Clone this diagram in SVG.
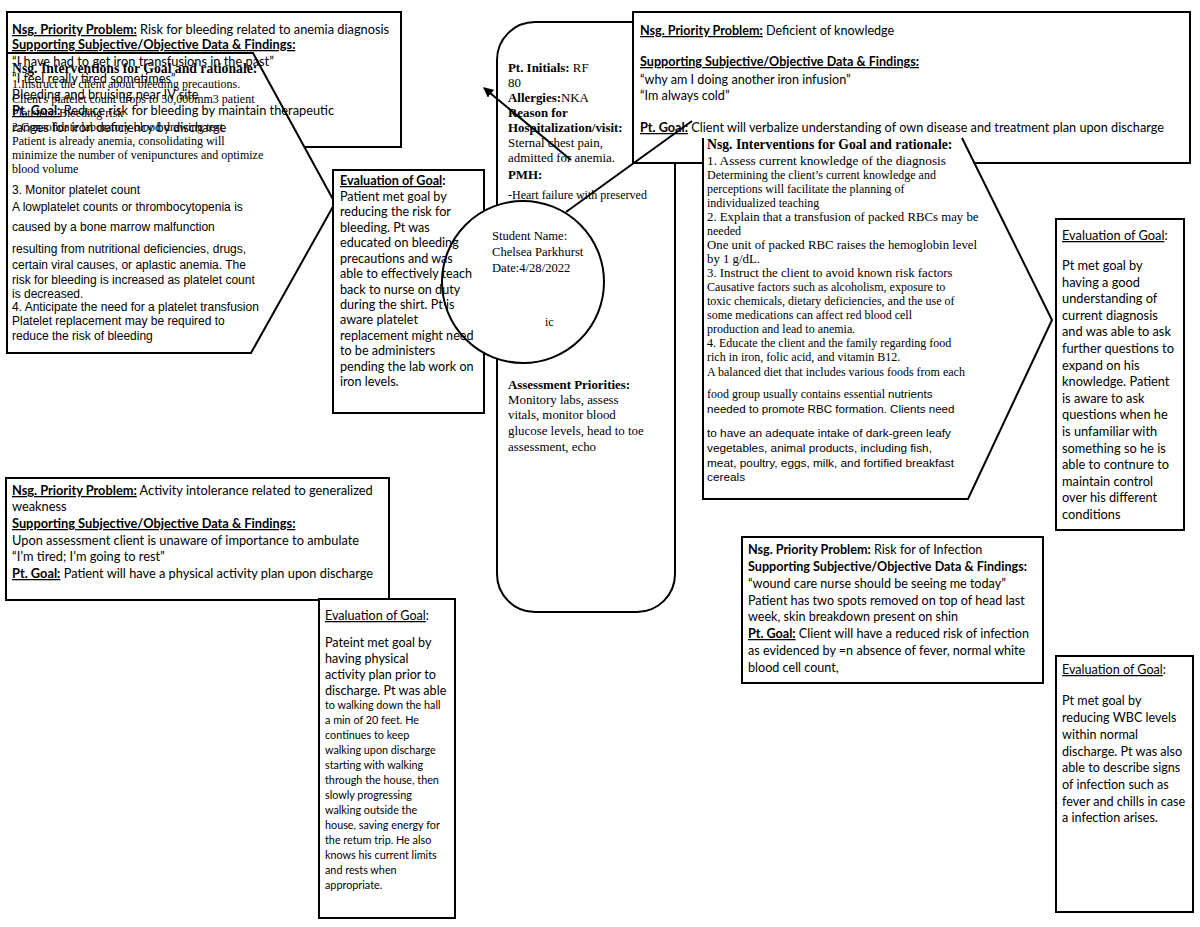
<svg xmlns="http://www.w3.org/2000/svg" width="1200" height="927" viewBox="0 0 1200 927">
<style>
.box{fill:#fff;stroke:#000;stroke-width:2}
.fill{fill:#fff;stroke:none}
.t{font-family:"Liberation Serif",serif;font-size:12px;fill:#000}
.tb{font-family:"Liberation Serif",serif;font-size:13.7px;font-weight:bold;fill:#000}
.tc{font-family:"Liberation Serif",serif;font-size:12.9px;fill:#000}
.c{font-family:Lato,"Open Sans",sans-serif;font-size:12.6px;fill:#000}
.cs{font-family:Lato,"Open Sans",sans-serif;font-size:10.8px;fill:#000}
.a{font-family:"Liberation Sans",Arial,sans-serif;font-size:12px;fill:#000}
.a2{font-family:"Liberation Sans",Arial,sans-serif;font-size:11.6px;fill:#000}
.b{font-weight:bold}
.u{text-decoration:underline}
.ln{stroke:#000;stroke-width:2;fill:none}
</style>
<defs>
<marker id="ah" markerWidth="10" markerHeight="10" refX="9" refY="5" orient="auto" markerUnits="userSpaceOnUse">
<path d="M0,0 L10,5 L0,10 z" fill="#000"/>
</marker>
</defs>

<g id="problem1">
<rect class="box" x="7" y="12" width="394" height="135"/>
</g>
<g id="interventions1">
<polygon class="box" points="7,53 253,53 335,203 251,353 7,353"/>
<text class="tb" x="12" y="73">Nsg. Interventions for Goal and rationale:</text>
<text class="t" x="12" y="88">1.Instruct the client about bleeding precautions.</text>
<text class="t" x="12" y="103">Client's platelet count drops to 50,000mm3 patient</text>
<text class="t" x="12" y="117">Platelets: Bleeding risk</text>
<text class="t" x="12" y="131">2.Consolidate laboratory blood drawing test</text>
<text class="t" x="12" y="145"> Patient is already anemia, consolidating will</text>
<text class="t" x="12" y="159">minimize the number of venipunctures and optimize</text>
<text class="t" x="12" y="173">blood volume</text>
<text class="a" x="12" y="194">3. Monitor platelet count</text>
<text class="a" x="12" y="211">A lowplatelet counts or thrombocytopenia is</text>
<text class="a" x="12" y="231">caused by a bone marrow malfunction</text>
<text class="a" x="12" y="253">resulting from nutritional deficiencies, drugs,</text>
<text class="a" x="12" y="269">certain viral causes, or aplastic anemia. The</text>
<text class="a" x="12" y="284">risk for bleeding is increased as platelet count</text>
<text class="a" x="12" y="298">is decreased.</text>
<text class="a" x="12" y="311">4. Anticipate the need for a platelet transfusion</text>
<text class="a" x="12" y="325">Platelet replacement may be required to</text>
<text class="a" x="12" y="340">reduce the risk of bleeding</text>
</g>
<g id="problem1-text">
<text class="c" x="12" y="34" style="font-size:12.8px"><tspan class="b u">Nsg. Priority Problem:</tspan> Risk for bleeding related to anemia diagnosis</text>
<text class="c" x="12" y="49" style="font-size:12.8px"><tspan class="b u">Supporting Subjective/Objective Data &amp; Findings:</tspan></text>
<text class="c" x="12" y="66" style="font-size:12.8px">“I have had to get iron transfusions in the past”</text>
<text class="c" x="12" y="83" style="font-size:12.8px">“I feel really tired sometimes”</text>
<text class="c" x="12" y="99" style="font-size:12.8px">Bleeding and bruising near IV site</text>
<text class="c" x="12" y="115" style="font-size:12.8px"><tspan class="b u">Pt. Goal:</tspan> Reduce risk for bleeding by maintain therapeutic</text>
<text class="c" x="12" y="132" style="font-size:12.8px">ranges for iron deficiency by discharge</text>
</g>

<g id="evaluation1">
<rect class="box" x="333" y="170" width="151" height="243"/>
</g>

<g id="center">
<rect class="box" x="497" y="22" width="178" height="590" rx="38" ry="38"/>
<text class="tc" x="508" y="72"><tspan class="b">Pt. Initials:</tspan> RF</text>
<text class="tc" x="508" y="87">80</text>
<text class="tc" x="508" y="102"><tspan class="b">Allergies:</tspan>NKA</text>
<text class="tc b" x="508" y="117">Reason for</text>
<text class="tc b" x="508" y="132">Hospitalization/visit:</text>
<text class="tc" x="508" y="147">Sternal chest pain,</text>
<text class="tc" x="508" y="162">admitted for anemia.</text>
<text class="tc b" x="508" y="179">PMH:</text>
<text class="t" x="508" y="199">-Heart failure with preserved</text>
<text class="tc b" x="508" y="389">Assessment Priorities:</text>
<text class="tc" x="508" y="404">Monitory labs, assess</text>
<text class="tc" x="508" y="419">vitals, monitor blood</text>
<text class="tc" x="508" y="435">glucose levels, head to toe</text>
<text class="tc" x="508" y="451">assessment, echo</text>
</g>

<g id="problem2">
<rect class="box" x="633" y="12" width="557" height="151"/>
</g>
<g id="interventions2">
<polygon class="fill" points="703,140 962,140 1052,320 968,499 703,499"/>
<polyline class="ln" points="703,138 703,499 968,499 1052,320 962,138"/>
<text class="tb" x="707" y="149">Nsg. Interventions for Goal and rationale:</text>
<text class="t" x="707" y="165" style="font-size:13.3px">1. Assess current knowledge of the diagnosis</text>
<text class="t" x="707" y="179">Determining the client’s current knowledge and</text>
<text class="t" x="707" y="193">perceptions will facilitate the planning of</text>
<text class="t" x="707" y="207">individualized teaching</text>
<text class="t" x="707" y="221" style="font-size:12.8px">2. Explain that a transfusion of packed RBCs may be</text>
<text class="t" x="707" y="235">needed</text>
<text class="t" x="707" y="249" style="font-size:12.8px">One unit of packed RBC raises the hemoglobin level</text>
<text class="t" x="707" y="263" style="font-size:12.8px">by 1 g/dL.</text>
<text class="t" x="707" y="277" style="font-size:12.8px">3.  Instruct the client to avoid known risk factors</text>
<text class="t" x="707" y="291">Causative factors such as alcoholism, exposure to</text>
<text class="t" x="707" y="305">toxic chemicals, dietary deficiencies, and the use of</text>
<text class="t" x="707" y="319">some medications can affect red blood cell</text>
<text class="t" x="707" y="333">production and lead to anemia.</text>
<text class="t" x="707" y="347">4. Educate the client and the family regarding food</text>
<text class="t" x="707" y="361">rich in iron, folic acid, and vitamin B12.</text>
<text class="t" x="707" y="376">A balanced diet that includes various foods from each</text>
<text class="t" x="707" y="398">food group usually contains essential <tspan class="a2">nutrients</tspan></text>
<text class="a2" x="707" y="413">needed to promote RBC formation. Clients need</text>
<text class="a2" x="707" y="437" style="font-size:11.8px">to have  an adequate intake of dark-green leafy</text>
<text class="a2" x="707" y="452" style="font-size:11.8px">vegetables, animal products, including fish,</text>
<text class="a2" x="707" y="467" style="font-size:11.8px">meat, poultry, eggs, milk, and fortified breakfast</text>
<text class="a2" x="707" y="481" style="font-size:11.8px">cereals</text>
</g>
<g id="problem2-text">
<text class="c" x="640" y="35"><tspan class="b u">Nsg. Priority Problem:</tspan> Deficient of knowledge</text>
<text class="c" x="640" y="66"><tspan class="b u">Supporting Subjective/Objective Data &amp; Findings:</tspan></text>
<text class="c" x="640" y="84">“why am I doing another iron infusion”</text>
<text class="c" x="640" y="100">“Im always cold”</text>
<text class="c" x="640" y="132" style="font-size:12.7px"><tspan class="b u">Pt. Goal:</tspan> Client will verbalize understanding of own disease and treatment plan upon discharge</text>
</g>

<g id="connectors">
<line class="ln" x1="571" y1="160" x2="484" y2="88" marker-end="url(#ah)"/>
<line class="ln" x1="566" y1="212" x2="692" y2="121"/>
</g>

<g id="student">
<circle class="box" cx="523" cy="282" r="81"/>
<text class="t" x="492" y="240" style="font-size:12.6px">Student Name:</text>
<text class="t" x="492" y="256" style="font-size:12.6px">Chelsea Parkhurst</text>
<text class="t" x="492" y="272" style="font-size:12.6px">Date:4/28/2022</text>
<text class="t" x="545" y="326">ic</text>
</g>

<g id="evaluation1-text">
<text class="c" x="340" y="185"><tspan class="b u">Evaluation of Goal</tspan><tspan class="b">:</tspan></text>
<text class="c" x="340" y="201">Patient met goal by</text>
<text class="c" x="340" y="216">reducing the risk for</text>
<text class="c" x="340" y="232">bleeding. Pt was</text>
<text class="c" x="340" y="247">educated on bleeding</text>
<text class="c" x="340" y="263">precautions and was</text>
<text class="c" x="340" y="278">able to effectively teach</text>
<text class="c" x="340" y="294">back to nurse on duty</text>
<text class="c" x="340" y="309">during the shirt. Pt is</text>
<text class="c" x="340" y="324">aware platelet</text>
<text class="c" x="340" y="340">replacement might need</text>
<text class="c" x="340" y="355">to be administers</text>
<text class="c" x="340" y="371">pending the lab work on</text>
<text class="c" x="340" y="386">iron levels.</text>
</g>

<g id="evaluation2">
<rect class="box" x="1056" y="219" width="128" height="311"/>
<text class="c" x="1062" y="240" style="font-size:12.8px"><tspan class="u">Evaluation of Goal</tspan>:</text>
<text class="c" x="1062" y="270" style="font-size:12.8px">Pt met goal by</text>
<text class="c" x="1062" y="286.6" style="font-size:12.8px">having a good</text>
<text class="c" x="1062" y="303.2" style="font-size:12.8px">understanding of</text>
<text class="c" x="1062" y="319.8" style="font-size:12.8px">current diagnosis</text>
<text class="c" x="1062" y="336.4" style="font-size:12.8px">and was able to ask</text>
<text class="c" x="1062" y="353" style="font-size:12.8px">further questions to</text>
<text class="c" x="1062" y="369.6" style="font-size:12.8px">expand on his</text>
<text class="c" x="1062" y="386.2" style="font-size:12.8px">knowledge. Patient</text>
<text class="c" x="1062" y="402.8" style="font-size:12.8px">is aware to ask</text>
<text class="c" x="1062" y="419.4" style="font-size:12.8px">questions when he</text>
<text class="c" x="1062" y="436" style="font-size:12.8px">is unfamiliar with</text>
<text class="c" x="1062" y="452.6" style="font-size:12.8px">something so he is</text>
<text class="c" x="1062" y="469.2" style="font-size:12.8px">able to contnure to</text>
<text class="c" x="1062" y="485.8" style="font-size:12.8px">maintain control</text>
<text class="c" x="1062" y="502.4" style="font-size:12.8px">over his different</text>
<text class="c" x="1062" y="519" style="font-size:12.8px">conditions</text>
</g>

<g id="problem3">
<rect class="box" x="6" y="478" width="383" height="122"/>
<text class="c" x="12" y="495" style="font-size:12.8px"><tspan class="b u">Nsg. Priority Problem:</tspan> Activity intolerance related to generalized</text>
<text class="c" x="12" y="511" style="font-size:12.8px">weakness</text>
<text class="c" x="12" y="528" style="font-size:12.8px"><tspan class="b u">Supporting Subjective/Objective Data &amp; Findings:</tspan></text>
<text class="c" x="12" y="545" style="font-size:12.8px">Upon assessment client is unaware of importance to ambulate</text>
<text class="c" x="12" y="561" style="font-size:12.8px">“I’m tired; I’m going to rest”</text>
<text class="c" x="12" y="578" style="font-size:12.8px"><tspan class="b u">Pt. Goal:</tspan> Patient will have a physical activity plan upon discharge</text>
</g>

<g id="evaluation3">
<rect class="box" x="319" y="599" width="136" height="319"/>
<text class="c" x="325" y="620"><tspan class="u">Evaluation of Goal</tspan>:</text>
<text class="c" x="325" y="647">Pateint met goal by</text>
<text class="c" x="325" y="663">having physical</text>
<text class="c" x="325" y="679">activity plan prior to</text>
<text class="c" x="325" y="695">discharge. Pt was able</text>
<text class="cs" x="325" y="709">to walking down the hall</text>
<text class="cs" x="325" y="724">a min of 20 feet. He</text>
<text class="cs" x="325" y="739">continues to keep</text>
<text class="cs" x="325" y="754">walking upon discharge</text>
<text class="cs" x="325" y="769">starting with walking</text>
<text class="cs" x="325" y="784">through the house, then</text>
<text class="cs" x="325" y="799">slowly progressing</text>
<text class="cs" x="325" y="814">walking  outside the</text>
<text class="cs" x="325" y="829">house, saving energy for</text>
<text class="cs" x="325" y="844">the retum trip. He also</text>
<text class="cs" x="325" y="859">knows his current limits</text>
<text class="cs" x="325" y="874">and rests when</text>
<text class="cs" x="325" y="889">appropriate.</text>
</g>

<g id="problem4">
<rect class="box" x="742" y="537" width="301" height="146"/>
<text class="c" x="748" y="554"><tspan class="b">Nsg. Priority Problem:</tspan> Risk for of Infection</text>
<text class="c" x="748" y="571"><tspan class="b">Supporting Subjective/Objective Data &amp; Findings:</tspan></text>
<text class="c" x="748" y="588">“wound care nurse should be seeing me today”</text>
<text class="c" x="748" y="605">Patient has two spots removed on top of head last</text>
<text class="c" x="748" y="621">week, skin breakdown present on shin</text>
<text class="c" x="748" y="638"><tspan class="b u">Pt. Goal:</tspan> Client will have a reduced risk of infection</text>
<text class="c" x="748" y="655">as evidenced by =n absence of fever, normal white</text>
<text class="c" x="748" y="672">blood cell count,</text>
</g>

<g id="evaluation4">
<rect class="box" x="1056" y="656" width="137" height="256"/>
<text class="c" x="1062" y="674"><tspan class="u">Evaluation of Goal</tspan>:</text>
<text class="c" x="1062" y="705">Pt met goal by</text>
<text class="c" x="1062" y="722">reducing WBC levels</text>
<text class="c" x="1062" y="739">within normal</text>
<text class="c" x="1062" y="756">discharge. Pt was also</text>
<text class="c" x="1062" y="772">able to describe signs</text>
<text class="c" x="1062" y="789">of infection such as</text>
<text class="c" x="1062" y="806">fever and chills in case</text>
<text class="c" x="1062" y="822">a infection arises.</text>
</g>
</svg>
